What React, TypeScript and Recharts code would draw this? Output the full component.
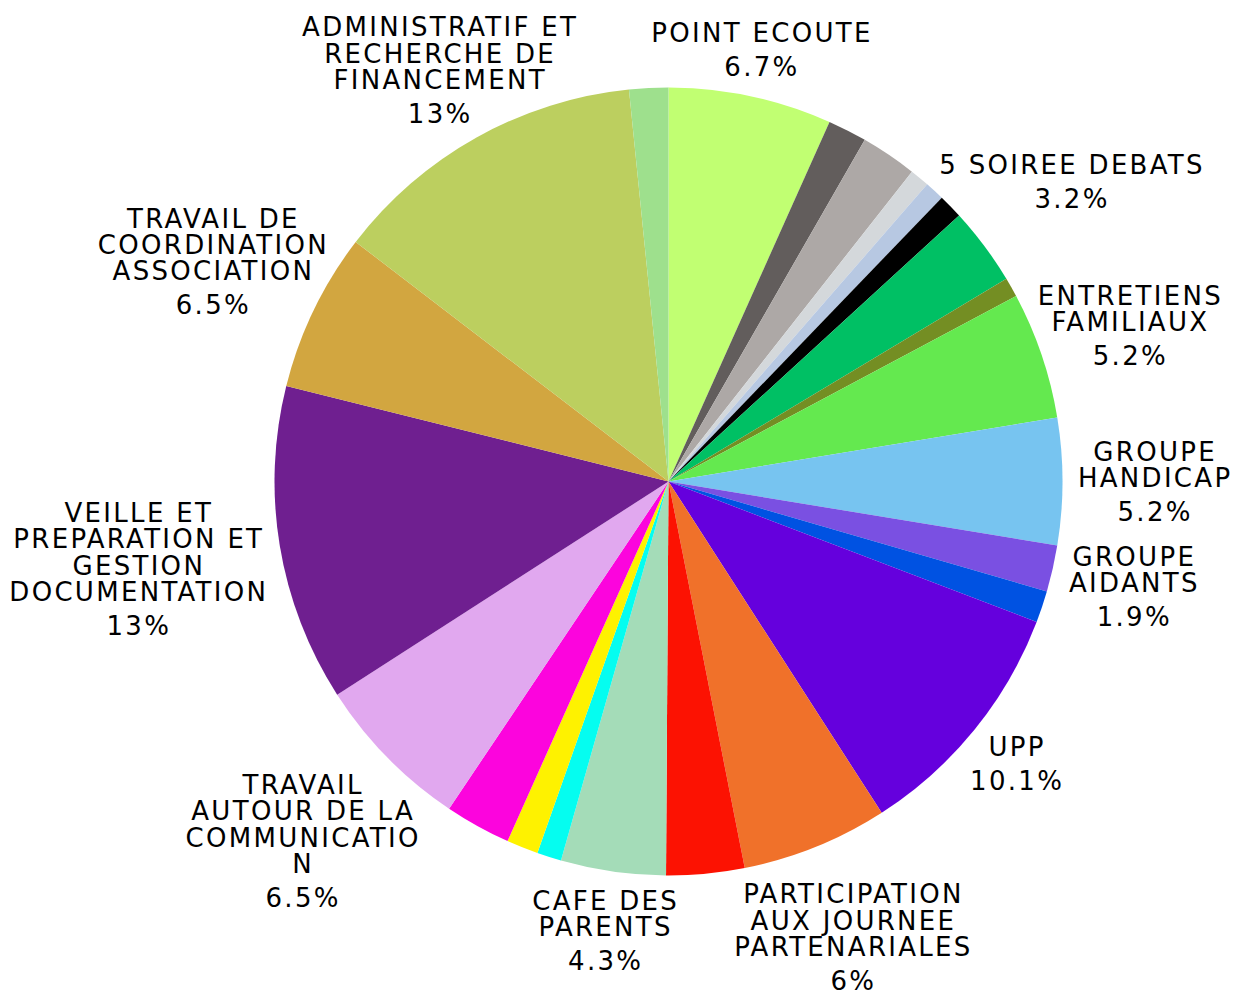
import React from 'react';
import { PieChart, Pie, Cell } from 'recharts';

// slices clockwise from 12 o'clock; empty name = no label drawn
const names = [
  'POINT ECOUTE',
  '',
  '',
  '',
  '',
  '',
  '5 SOIREE DEBATS',
  '',
  'ENTRETIENS\nFAMILIAUX',
  'GROUPE\nHANDICAP',
  'GROUPE\nAIDANTS',
  '',
  'UPP',
  'PARTICIPATION\nAUX JOURNEE\nPARTENARIALES',
  '',
  'CAFE DES\nPARENTS',
  '',
  '',
  '',
  'TRAVAIL\nAUTOUR DE LA\nCOMMUNICATIO\nN',
  'VEILLE ET\nPREPARATION ET\nGESTION\nDOCUMENTATION',
  'TRAVAIL DE\nCOORDINATION\nASSOCIATION',
  'ADMINISTRATIF ET\nRECHERCHE DE\nFINANCEMENT',
  '',
];

const values = [
  6.7, 1.6, 2.3, 0.8, 0.8, 1.0, 3.2, 0.8, 5.2, 5.2, 1.9, 1.3,
  10.1, 6.0, 3.2, 4.3, 1.0, 1.3, 2.7, 6.5, 13.0, 6.5, 13.0, 1.6,
];

const colors = [
  '#C1FF72', '#625D5C', '#ADA8A6', '#D4D8DB', '#B7C8E2', '#000000',
  '#00C064', '#748E23', '#64E94F', '#77C4F0', '#7A50E2', '#0052E2',
  '#6500DD', '#F0712A', '#FC1202', '#A4DCB8', '#05FDF0', '#FEF200',
  '#FC04DD', '#E1A8EF', '#6F1F90', '#D2A640', '#BCCF5F', '#9EE08D',
];

const data = values.map((v, i) => ({ name: names[i], value: v }));

const FONT_SIZE = 26;
const LETTER_SPACING = 2.3;
const FONT_FAMILY = '"DejaVu Sans"';
const LINE_H = 26.3;
const PCT_GAP = 34;
const LINE_HALF = 10;
const CLEAR = 15;

let ctx: CanvasRenderingContext2D | null = null;
function measure(s: string) {
  if (!ctx) {
    ctx = document.createElement('canvas').getContext('2d');
  }
  if (!ctx) return s.length * FONT_SIZE * 0.7;
  ctx.font = `${FONT_SIZE}px ${FONT_FAMILY}`;
  return ctx.measureText(s).width + LETTER_SPACING * (s.length - 1);
}

function formatPct(p: number) {
  const s = p.toFixed(1);
  return (s.endsWith('.0') ? s.slice(0, -2) : s) + '%';
}

// distance from origin to an axis-aligned box
function boxDist(x: number, y: number, hw: number, hh: number) {
  const dx = Math.max(0, Math.abs(x) - hw);
  const dy = Math.max(0, Math.abs(y) - hh);
  return Math.sqrt(dx * dx + dy * dy);
}

const renderLabel = (props: any) => {
  const { cx, cy, midAngle, outerRadius, percent, name, index } = props;
  const label: string = name ?? names[index];
  if (!label) return null;
  const lines = label.split('\n');
  const pct = formatPct(percent * 100);
  const n = lines.length;
  const H = (n - 1) * LINE_H + PCT_GAP;
  // line centres relative to block centre
  const rows = [...lines, pct].map((t, i) => ({
    t,
    w: measure(t),
    y: (i < n ? i * LINE_H : (n - 1) * LINE_H + PCT_GAP) - H / 2,
  }));
  const rad = (-midAngle * Math.PI) / 180;
  const ux = Math.cos(rad);
  const uy = Math.sin(rad);
  const target = outerRadius + CLEAR;
  // push the block outward until every line clears the pie
  let d = outerRadius;
  for (; d < outerRadius + 400; d += 0.5) {
    const bx = ux * d;
    const by = uy * d;
    const m = Math.min(...rows.map((r) => boxDist(bx, by + r.y, r.w / 2, LINE_HALF)));
    if (m >= target) break;
  }
  const bx = cx + ux * d + LETTER_SPACING / 2;
  const by = cy + uy * d;
  const base = FONT_SIZE * 0.36;
  return (
    <text
      textAnchor="middle"
      fill="#000"
      fontSize={FONT_SIZE}
      fontFamily={FONT_FAMILY}
      style={{ letterSpacing: LETTER_SPACING }}
    >
      {rows.map((r, i) => (
        <tspan key={i} x={bx} y={by + r.y + base}>
          {r.t}
        </tspan>
      ))}
    </text>
  );
};

export default function App() {
  return (
    <div style={{ position: 'absolute', left: 0, top: 0, width: 1241, height: 997 }}>
      <PieChart width={1241} height={997} margin={{ top: 0, right: 0, bottom: 0, left: 0 }}>
        <Pie
          data={data}
          dataKey="value"
          nameKey="name"
          cx={668.5}
          cy={481.5}
          outerRadius={394}
          startAngle={90}
          endAngle={-270}
          stroke="none"
          labelLine={false}
          label={renderLabel}
          isAnimationActive={false}
        >
          {data.map((d, i) => (
            <Cell key={`cell-${i}`} fill={colors[i]} />
          ))}
        </Pie>
      </PieChart>
    </div>
  );
}
